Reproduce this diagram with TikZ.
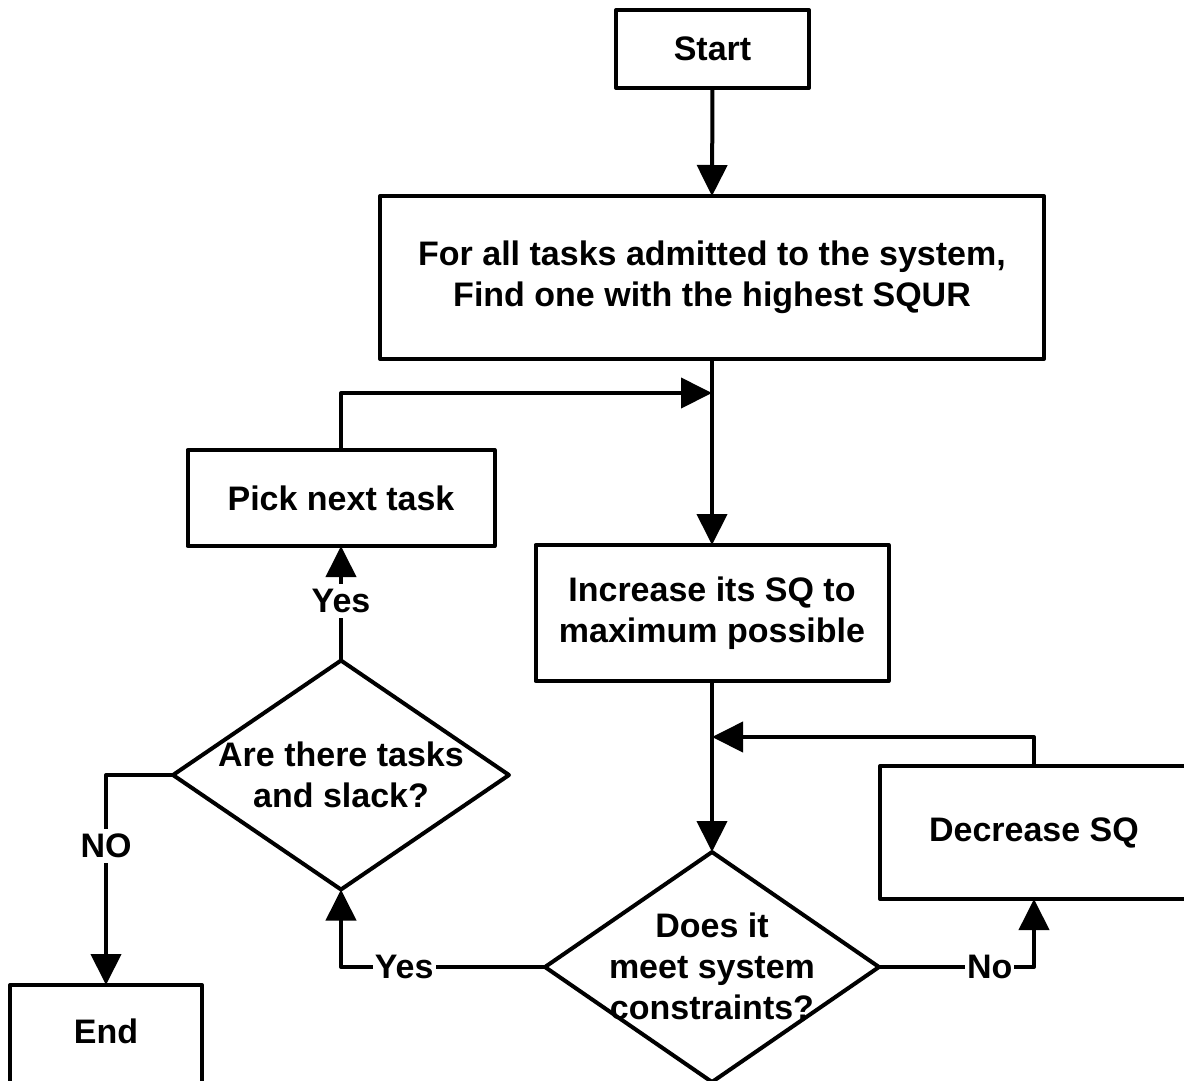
\documentclass[tikz,border=0pt]{standalone}
\usepackage{fontspec}
\setmainfont{Liberation Sans}
\usetikzlibrary{arrows.meta,shapes.geometric}

\begin{document}
\begin{tikzpicture}[x=1pt,y=-1pt,
  txt/.style={font=\bfseries\fontsize{34}{41}\selectfont,align=center},
  box/.style={txt,draw,line width=4pt,line join=round,rectangle,outer sep=0pt,inner sep=0pt},
  decision/.style={draw,line width=4pt,line join=round,diamond,outer sep=0pt,inner sep=0pt},
  conn/.style={line width=4pt,line join=round},
  arr/.style={conn,-{Triangle[length=31pt,width=30pt]}},
  lbl/.style={txt,fill=white,inner xsep=2pt,inner ysep=5pt}
]
\useasboundingbox (0,0) rectangle (1184,1080);
\clip (0,0) rectangle (1184,1080);

% process boxes
\node[box,minimum width=193pt,minimum height=78pt] (start) at (712.5,49) {Start};
\node[box,minimum width=664pt,minimum height=163pt] (task) at (712,277.5)
  {For all tasks admitted to the system,\\Find one with the highest SQUR};
\node[box,minimum width=307pt,minimum height=96pt] (pick) at (341,498) {Pick next task};
\node[box,minimum width=353pt,minimum height=136pt] (inc) at (712,613)
  {Increase its SQ to\\maximum possible};
\node[box,minimum width=308pt,minimum height=133pt] (dec) at (1034,832.5) {Decrease SQ};
\node[box,minimum width=192pt,minimum height=98pt] (end) at (106,1034) {};
\node[txt] (endtxt) at (106,1031) {End};

% decisions: outline first, then the question set over it
\node[decision,minimum width=336pt,minimum height=229pt] (are) at (341,775) {};
\node[txt] (aretxt) at (341,775) {Are there tasks\\and slack?};
\node[decision,minimum width=334pt,minimum height=230pt] (does) at (712,967) {};
\node[txt] (doestxt) at (712,966) {Does it\\meet system\\constraints?};

% junction points on the main spine
\coordinate (j1) at (712,393);
\coordinate (j2) at (712,737);

% connectors
\draw[arr] (start.south) -- (task.north);
\draw[conn] (task.south) -- (j1);
\draw[arr] (j1) -- (inc.north);
\draw[arr] (pick.north) |- (j1);
\draw[conn] (inc.south) -- (j2);
\draw[arr] (j2) -- (does.north);
\draw[arr] (dec.north) |- (j2);
\draw[arr] (does.east) -| node[lbl,pos=0.357] {No} (dec.south);
\draw[arr] (does.west) -| node[lbl,pos=0.345] {Yes} (are.south);
\draw[arr] (are.north) -- node[lbl,pos=0.52] {Yes} (pick.south);
\draw[arr] (are.west) -| node[lbl,pos=0.669] {NO} (end.north);
\end{tikzpicture}
\end{document}
